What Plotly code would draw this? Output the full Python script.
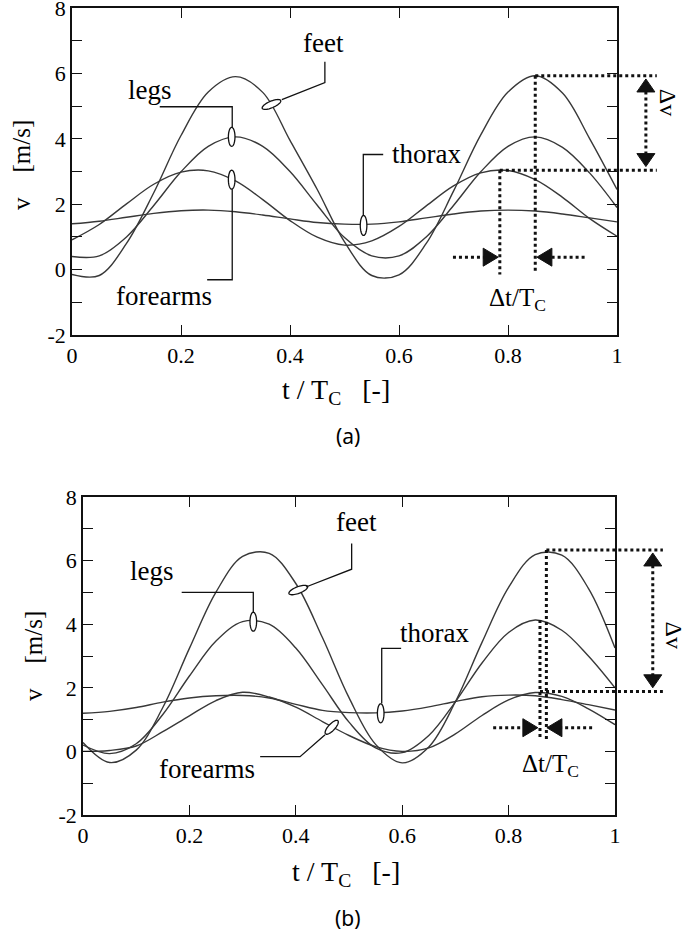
import math
import plotly.graph_objects as go

# ---------------- data ----------------
t = [0.00, 0.05, 0.10, 0.15, 0.20, 0.25, 0.30, 0.35, 0.40, 0.45, 0.50,
     0.55, 0.60, 0.65, 0.70, 0.75, 0.80, 0.85, 0.90, 0.95, 1.00]

# panel (a)
feet_a = [-0.15, -0.18, 0.80, 2.35, 4.10, 5.43, 5.90, 5.42, 3.95, 2.45, 0.85,
          -0.18, -0.16, 0.80, 2.40, 4.12, 5.43, 5.93, 5.40, 4.00, 2.45]
legs_a = [0.40, 0.42, 1.00, 1.96, 2.99, 3.77, 4.06, 3.77, 3.00, 1.97, 0.98,
          0.42, 0.42, 1.00, 1.96, 2.99, 3.77, 4.06, 3.74, 2.95, 1.90]
forearms_a = [0.91, 1.38, 2.01, 2.61, 2.98, 3.02, 2.71, 2.14, 1.50, 0.99, 0.75,
              0.88, 1.32, 1.95, 2.56, 2.96, 3.03, 2.75, 2.21, 1.56, 1.02]
thorax_a = [1.40, 1.48, 1.60, 1.72, 1.80, 1.82, 1.77, 1.67, 1.55, 1.44, 1.39,
            1.39, 1.46, 1.58, 1.70, 1.79, 1.82, 1.79, 1.70, 1.58, 1.46]

# panel (b)
feet_b = [0.28, -0.35, 0.04, 1.38, 3.24, 5.01, 6.13, 6.23, 5.28, 3.58, 1.69,
          0.22, -0.36, 0.14, 1.56, 3.43, 5.16, 6.19, 6.17, 5.13, 3.25]
legs_b = [0.20, -0.07, 0.24, 1.16, 2.37, 3.47, 4.08, 4.00, 3.25, 2.10, 0.92,
          0.11, -0.04, 0.50, 1.56, 2.78, 3.74, 4.13, 3.81, 3.00, 2.00]
forearms_b = [0.00, 0.03, 0.17, 0.62, 1.12, 1.60, 1.86, 1.71, 1.39, 0.94, 0.50,
              0.15, 0.00, 0.11, 0.55, 1.13, 1.62, 1.85, 1.73, 1.34, 0.84]
thorax_b = [1.20, 1.26, 1.38, 1.55, 1.68, 1.75, 1.76, 1.68, 1.48, 1.29, 1.22,
            1.21, 1.27, 1.40, 1.57, 1.72, 1.77, 1.75, 1.63, 1.47, 1.30]

x_tickvals = [0, 0.2, 0.4, 0.6, 0.8, 1]
x_ticktext = ["0", "0.2", "0.4", "0.6", "0.8", "1"]
y_tickvals = [-2, -1, 0, 1, 2, 3, 4, 5, 6, 7, 8]
y_ticktext = ["-2", "", "0", "", "2", "", "4", "", "6", "", "8"]

# ---------------- geometry ----------------
W, H = 682, 940
PANELS = {
    "a": dict(left=72, right=617, top=8, bottom=335, xa="x", ya="y"),
    "b": dict(left=83, right=615, top=497, bottom=815, xa="x2", ya="y2"),
}
XR = (0.0, 1.0)
YR = (-2.0, 8.0)

SERIF = "Liberation Serif"
CURVE = "#383838"
INK = "#111111"


def to_px(p, tt, vv):
    g = PANELS[p]
    x = g["left"] + (tt - XR[0]) / (XR[1] - XR[0]) * (g["right"] - g["left"])
    y = g["bottom"] - (vv - YR[0]) / (YR[1] - YR[0]) * (g["bottom"] - g["top"])
    return x, y


def pp(x, y):
    return x / W, 1 - y / H


def path_px(points, close=False):
    s = "M " + " L ".join(f"{x / W:.5f},{1 - y / H:.5f}" for x, y in points)
    if close:
        s += " Z"
    return s


shapes = []
annotations = []


def poly(p, pts_data, width=1.3, color=INK):
    pts = [to_px(p, a, b) for a, b in pts_data]
    shapes.append(dict(type="path", xref="paper", yref="paper", path=path_px(pts),
                       line=dict(color=color, width=width)))


def ellipse(p, ct, cv, a, b, ang):
    cx, cy = to_px(p, ct, cv)
    ph = math.radians(ang)
    pts = []
    for k in range(48):
        th = 2 * math.pi * k / 48
        ex, ey = a * math.cos(th), b * math.sin(th)
        x = cx + ex * math.cos(ph) - ey * math.sin(ph)
        y = cy - (ex * math.sin(ph) + ey * math.cos(ph))
        pts.append((x, y))
    shapes.append(dict(type="path", xref="paper", yref="paper", path=path_px(pts, True),
                       line=dict(color=INK, width=1.3), fillcolor="white"))


def dotted(p, t0, v0, t1, v1):
    x0, y0 = pp(*to_px(p, t0, v0))
    x1, y1 = pp(*to_px(p, t1, v1))
    shapes.append(dict(type="line", xref="paper", yref="paper", x0=x0, y0=y0, x1=x1, y1=y1,
                       line=dict(color=INK, width=3, dash="3px,3px")))


def tri(p, tt, vv, direction, L=15, w=9):
    x, y = to_px(p, tt, vv)
    if direction == "right":
        pts = [(x, y), (x - L, y - w), (x - L, y + w)]
    elif direction == "left":
        pts = [(x, y), (x + L, y - w), (x + L, y + w)]
    elif direction == "up":
        pts = [(x, y), (x - w, y + L), (x + w, y + L)]
    else:
        pts = [(x, y), (x - w, y - L), (x + w, y - L)]
    shapes.append(dict(type="path", xref="paper", yref="paper", path=path_px(pts, True),
                       line=dict(color=INK, width=1), fillcolor=INK))


def label(p, tt, vv, text, size=27, angle=0):
    # placed in paper coordinates so that labels outside the axis range still show
    x, y = pp(*to_px(p, tt, vv))
    annotations.append(dict(x=x, y=y, xref="paper", yref="paper", text=text,
                            showarrow=False, textangle=angle,
                            font=dict(family=SERIF, size=size, color="black"),
                            xanchor="center", yanchor="middle"))


# ---------------- figure ----------------
fig = go.Figure()
for ser in (feet_a, legs_a, forearms_a, thorax_a):
    fig.add_trace(go.Scatter(x=t, y=ser, xaxis="x", yaxis="y", mode="lines",
                             line=dict(color=CURVE, width=1.4, shape="spline", smoothing=1),
                             showlegend=False, hoverinfo="skip"))
for ser in (feet_b, legs_b, forearms_b, thorax_b):
    fig.add_trace(go.Scatter(x=t, y=ser, xaxis="x2", yaxis="y2", mode="lines",
                             line=dict(color=CURVE, width=1.4, shape="spline", smoothing=1),
                             showlegend=False, hoverinfo="skip"))

# ---- panel (a) annotations ----
ellipse("a", 0.366, 5.05, 10, 3.3, 23)
poly("a", [(0.385, 5.20), (0.464, 5.72), (0.464, 6.36)])
ellipse("a", 0.293, 4.06, 9.5, 3.3, 90)
poly("a", [(0.161, 4.98), (0.294, 4.98), (0.294, 4.34)])
ellipse("a", 0.293, 2.75, 9.5, 3.3, 90)
poly("a", [(0.294, 2.46), (0.294, -0.31), (0.248, -0.31)])
ellipse("a", 0.535, 1.35, 10, 3.3, 90)
poly("a", [(0.571, 3.52), (0.5345, 3.52), (0.5345, 1.65)])

label("a", 0.461, 6.94, "feet")
label("a", 0.143, 5.50, "legs")
label("a", 0.168, -0.80, "forearms")
label("a", 0.650, 3.52, "thorax")

dotted("a", 0.85, 5.93, 1.073, 5.93)
dotted("a", 0.785, 3.04, 1.073, 3.04)
dotted("a", 0.85, 5.93, 0.85, -0.06)
dotted("a", 0.785, 3.04, 0.785, -0.15)
dotted("a", 0.699, 0.38, 0.756, 0.38)
tri("a", 0.782, 0.38, "right")
tri("a", 0.853, 0.38, "left")
dotted("a", 0.880, 0.38, 0.941, 0.38)
tri("a", 1.053, 5.83, "up", L=13, w=9)
dotted("a", 1.053, 5.45, 1.053, 3.55)
tri("a", 1.053, 3.15, "down", L=13, w=9)
label("a", 0.818, -0.92, "Δt/T<sub>C</sub>", size=25)
label("a", 1.095, 5.11, "Δv", size=24, angle=90)

# ---- panel (b) annotations ----
ellipse("b", 0.4047, 5.075, 10, 3.3, 21)
poly("b", [(0.419, 5.17), (0.505, 5.73), (0.505, 6.54)])
ellipse("b", 0.3201, 4.079, 9.5, 3.3, 90)
poly("b", [(0.1855, 5.003), (0.3201, 5.003), (0.3201, 4.362)])
ellipse("b", 0.4675, 0.758, 9, 3.3, 47)
poly("b", [(0.455, 0.52), (0.408, -0.167), (0.333, -0.167)])
ellipse("b", 0.5596, 1.198, 9.5, 3.3, 90)
poly("b", [(0.598, 3.242), (0.5615, 3.242), (0.5615, 1.513)])

label("b", 0.515, 7.21, "feet")
label("b", 0.130, 5.67, "legs")
label("b", 0.233, -0.55, "forearms")
label("b", 0.660, 3.72, "thorax")

dotted("b", 0.871, 6.33, 1.09, 6.33)
dotted("b", 0.859, 1.88, 1.09, 1.88)
dotted("b", 0.859, 4.13, 0.859, 0.36)
dotted("b", 0.871, 6.33, 0.871, 0.36)
dotted("b", 0.771, 0.745, 0.829, 0.745)
tri("b", 0.855, 0.745, "right")
tri("b", 0.872, 0.745, "left")
dotted("b", 0.895, 0.745, 0.957, 0.745)
tri("b", 1.071, 6.24, "up", L=13, w=9)
dotted("b", 1.071, 5.85, 1.071, 2.35)
tri("b", 1.071, 2.00, "down", L=13, w=9)
label("b", 0.878, -0.43, "Δt/T<sub>C</sub>", size=25)
label("b", 1.110, 3.66, "Δv", size=24, angle=90)

# ---- axis titles and captions ----
for cx, cy in ((336, 391), (346, 873)):
    annotations.append(dict(x=cx / W, y=1 - cy / H, xref="paper", yref="paper",
                            text="t / T<sub>C</sub>   [-]", showarrow=False,
                            font=dict(family=SERIF, size=28, color="black"),
                            xanchor="center", yanchor="middle"))
for cx, cy in ((22, 165), (33, 656)):
    annotations.append(dict(x=cx / W, y=1 - cy / H, xref="paper", yref="paper",
                            text="v    [m/s]", showarrow=False, textangle=-90,
                            font=dict(family=SERIF, size=25, color="black"),
                            xanchor="center", yanchor="middle"))
for cx, cy, txt in ((348, 436, "(a)"), (348, 918, "(b)")):
    annotations.append(dict(x=cx / W, y=1 - cy / H, xref="paper", yref="paper",
                            text=txt, showarrow=False,
                            font=dict(family="Noto Sans", size=21, color="black"),
                            xanchor="center", yanchor="middle"))


def xaxis(p, anchor):
    g = PANELS[p]
    return dict(domain=[g["left"] / W, g["right"] / W], range=list(XR), anchor=anchor,
                tickmode="array", tickvals=x_tickvals, ticktext=x_ticktext,
                ticks="inside", ticklen=10, tickwidth=1.3, tickcolor=INK,
                showline=True, linecolor=INK, linewidth=1.6, mirror="ticks",
                showgrid=False, zeroline=False, fixedrange=True, automargin=False,
                ticklabeloverflow="allow",
                tickfont=dict(family=SERIF, size=22, color="black"))


def yaxis(p, anchor):
    g = PANELS[p]
    return dict(domain=[1 - g["bottom"] / H, 1 - g["top"] / H], range=list(YR), anchor=anchor,
                tickmode="array", tickvals=y_tickvals, ticktext=y_ticktext,
                ticks="inside", ticklen=10, tickwidth=1.3, tickcolor=INK,
                showline=True, linecolor=INK, linewidth=1.6, mirror="ticks",
                showgrid=False, zeroline=False, fixedrange=True, automargin=False,
                ticklabeloverflow="allow",
                tickfont=dict(family=SERIF, size=22, color="black"))


fig.update_layout(
    width=W, height=H, autosize=False,
    margin=dict(l=0, r=0, t=0, b=0, pad=0, autoexpand=False),
    paper_bgcolor="white", plot_bgcolor="white",
    xaxis=xaxis("a", "y"), yaxis=yaxis("a", "x"),
    xaxis2=xaxis("b", "y2"), yaxis2=yaxis("b", "x2"),
    shapes=shapes, annotations=annotations,
    showlegend=False,
)

# remove the browser's default page margin so the figure sits at the window's corner
fig.write_html("out.html",
               config={"displayModeBar": False},
               post_script="document.body.style.margin='0';")
